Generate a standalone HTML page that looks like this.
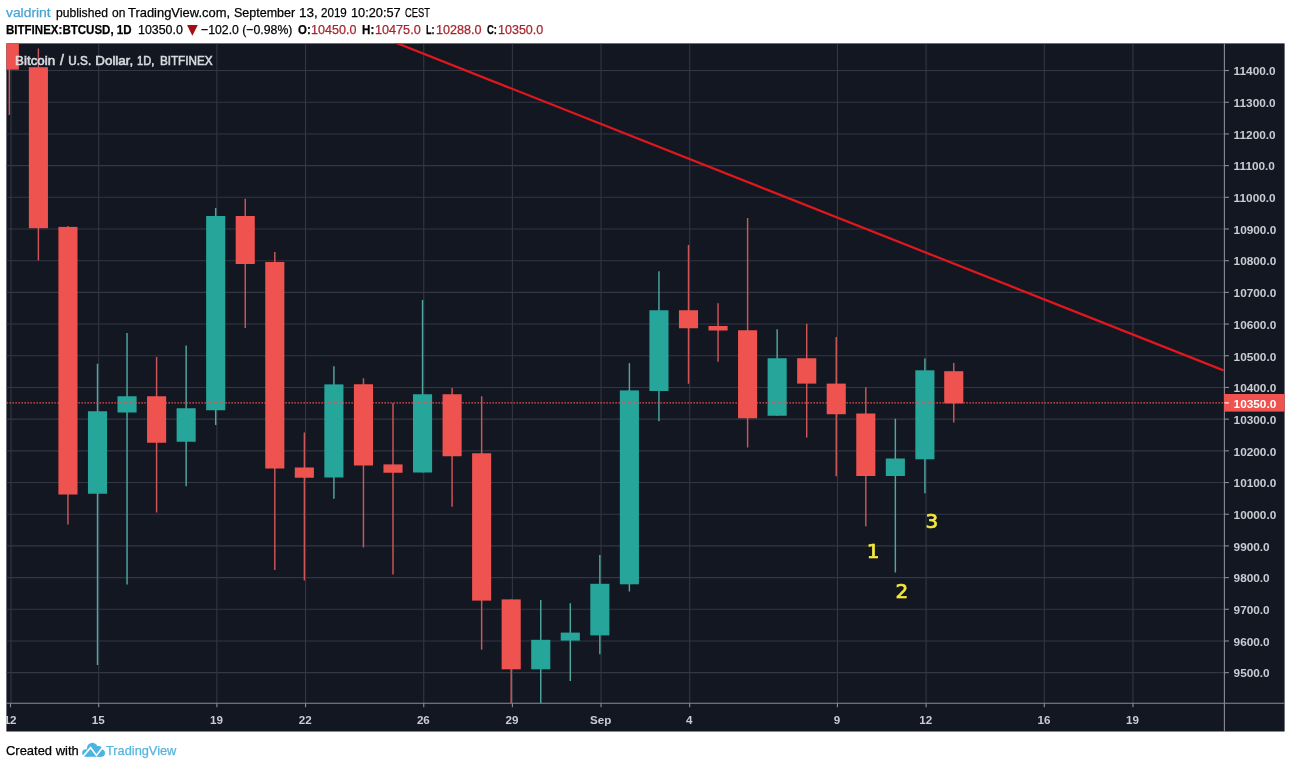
<!DOCTYPE html>
<html><head><meta charset="utf-8"><title>BTCUSD chart</title>
<style>
html,body{margin:0;padding:0;background:#fff}
body{width:1291px;height:768px;position:relative;overflow:hidden;font-family:"Liberation Sans",sans-serif;color:#000}
.w{position:absolute;white-space:nowrap;line-height:20px;transform-origin:0 0;display:block;-webkit-text-stroke:0.25px currentColor}
#mask{position:absolute;left:0;top:40px;width:6.4px;height:700px;background:#fff}
#tri{position:absolute;left:186.9px;top:19.2px;line-height:20px;font-family:"DejaVu Sans",sans-serif;font-size:14px;color:#a30d14}
#logo{position:absolute;left:82px;top:742px}
</style></head><body>
<svg width="1291" height="768" viewBox="0 0 1291 768" style="position:absolute;left:0;top:0"><defs><clipPath id="pane"><rect x="6.4" y="43.4" width="1218.0" height="659.9"/></clipPath></defs><rect x="6.4" y="43.4" width="1278.1999999999998" height="688.1" fill="#131722"/><g stroke="#333743" stroke-width="1.1" clip-path="url(#pane)"><line x1="6.4" y1="70.55" x2="1224.4" y2="70.55"/><line x1="6.4" y1="102.24" x2="1224.4" y2="102.24"/><line x1="6.4" y1="133.93" x2="1224.4" y2="133.93"/><line x1="6.4" y1="165.62" x2="1224.4" y2="165.62"/><line x1="6.4" y1="197.31" x2="1224.4" y2="197.31"/><line x1="6.4" y1="229.00" x2="1224.4" y2="229.00"/><line x1="6.4" y1="260.69" x2="1224.4" y2="260.69"/><line x1="6.4" y1="292.38" x2="1224.4" y2="292.38"/><line x1="6.4" y1="324.07" x2="1224.4" y2="324.07"/><line x1="6.4" y1="355.76" x2="1224.4" y2="355.76"/><line x1="6.4" y1="387.45" x2="1224.4" y2="387.45"/><line x1="6.4" y1="419.14" x2="1224.4" y2="419.14"/><line x1="6.4" y1="450.83" x2="1224.4" y2="450.83"/><line x1="6.4" y1="482.52" x2="1224.4" y2="482.52"/><line x1="6.4" y1="514.21" x2="1224.4" y2="514.21"/><line x1="6.4" y1="545.90" x2="1224.4" y2="545.90"/><line x1="6.4" y1="577.59" x2="1224.4" y2="577.59"/><line x1="6.4" y1="609.28" x2="1224.4" y2="609.28"/><line x1="6.4" y1="640.97" x2="1224.4" y2="640.97"/><line x1="6.4" y1="672.66" x2="1224.4" y2="672.66"/><line x1="11.00" y1="43.4" x2="11.00" y2="703.3"/><line x1="98.70" y1="43.4" x2="98.70" y2="703.3"/><line x1="216.90" y1="43.4" x2="216.90" y2="703.3"/><line x1="305.55" y1="43.4" x2="305.55" y2="703.3"/><line x1="423.75" y1="43.4" x2="423.75" y2="703.3"/><line x1="512.40" y1="43.4" x2="512.40" y2="703.3"/><line x1="601.05" y1="43.4" x2="601.05" y2="703.3"/><line x1="689.70" y1="43.4" x2="689.70" y2="703.3"/><line x1="837.45" y1="43.4" x2="837.45" y2="703.3"/><line x1="926.10" y1="43.4" x2="926.10" y2="703.3"/><line x1="1044.30" y1="43.4" x2="1044.30" y2="703.3"/><line x1="1132.95" y1="43.4" x2="1132.95" y2="703.3"/></g><g clip-path="url(#pane)"><line x1="9.30" y1="30" x2="9.30" y2="115" stroke="#cf5657" stroke-width="1.45"/> <rect x="-0.25" y="30" width="19.1" height="39.60" fill="#ef5350"/><line x1="38.40" y1="48.4" x2="38.40" y2="260.6" stroke="#cf5657" stroke-width="1.45"/> <rect x="28.85" y="67.2" width="19.1" height="161.00" fill="#ef5350"/><line x1="67.95" y1="226" x2="67.95" y2="524.5" stroke="#cf5657" stroke-width="1.45"/> <rect x="58.40" y="226.9" width="19.1" height="267.60" fill="#ef5350"/><line x1="97.50" y1="363.75" x2="97.50" y2="665" stroke="#4fa69f" stroke-width="1.45"/> <rect x="87.95" y="411.25" width="19.1" height="82.50" fill="#26a69a"/><line x1="127.05" y1="333" x2="127.05" y2="584.5" stroke="#4fa69f" stroke-width="1.45"/> <rect x="117.50" y="396.25" width="19.1" height="16.25" fill="#26a69a"/><line x1="156.60" y1="357" x2="156.60" y2="512.5" stroke="#cf5657" stroke-width="1.45"/> <rect x="147.05" y="396.25" width="19.1" height="46.50" fill="#ef5350"/><line x1="186.15" y1="345.5" x2="186.15" y2="486.25" stroke="#4fa69f" stroke-width="1.45"/> <rect x="176.60" y="408.25" width="19.1" height="33.50" fill="#26a69a"/><line x1="215.70" y1="208" x2="215.70" y2="425" stroke="#4fa69f" stroke-width="1.45"/> <rect x="206.15" y="216" width="19.1" height="194.25" fill="#26a69a"/><line x1="245.25" y1="198.75" x2="245.25" y2="328" stroke="#cf5657" stroke-width="1.45"/> <rect x="235.70" y="216" width="19.1" height="48.00" fill="#ef5350"/><line x1="274.80" y1="251.9" x2="274.80" y2="570" stroke="#cf5657" stroke-width="1.45"/> <rect x="265.25" y="262" width="19.1" height="206.50" fill="#ef5350"/><line x1="304.35" y1="432.5" x2="304.35" y2="580.5" stroke="#cf5657" stroke-width="1.45"/> <rect x="294.80" y="467.5" width="19.1" height="10.25" fill="#ef5350"/><line x1="333.90" y1="366.25" x2="333.90" y2="498.75" stroke="#4fa69f" stroke-width="1.45"/> <rect x="324.35" y="384.4" width="19.1" height="93.10" fill="#26a69a"/><line x1="363.45" y1="378.25" x2="363.45" y2="547.5" stroke="#cf5657" stroke-width="1.45"/> <rect x="353.90" y="384.25" width="19.1" height="81.25" fill="#ef5350"/><line x1="393.00" y1="403" x2="393.00" y2="574.5" stroke="#cf5657" stroke-width="1.45"/> <rect x="383.45" y="464.4" width="19.1" height="8.35" fill="#ef5350"/><line x1="422.55" y1="300" x2="422.55" y2="472.5" stroke="#4fa69f" stroke-width="1.45"/> <rect x="413.00" y="394.25" width="19.1" height="78.25" fill="#26a69a"/><line x1="452.10" y1="388" x2="452.10" y2="506.75" stroke="#cf5657" stroke-width="1.45"/> <rect x="442.55" y="394.25" width="19.1" height="62.00" fill="#ef5350"/><line x1="481.65" y1="396.25" x2="481.65" y2="649.7" stroke="#cf5657" stroke-width="1.45"/> <rect x="472.10" y="453.25" width="19.1" height="147.35" fill="#ef5350"/><line x1="511.20" y1="599.4" x2="511.20" y2="703" stroke="#cf5657" stroke-width="1.45"/> <rect x="501.65" y="599.4" width="19.1" height="69.90" fill="#ef5350"/><line x1="540.75" y1="600.1" x2="540.75" y2="703" stroke="#4fa69f" stroke-width="1.45"/> <rect x="531.20" y="639.8" width="19.1" height="29.50" fill="#26a69a"/><line x1="570.30" y1="603.2" x2="570.30" y2="681" stroke="#4fa69f" stroke-width="1.45"/> <rect x="560.75" y="632.6" width="19.1" height="8.00" fill="#26a69a"/><line x1="599.85" y1="555" x2="599.85" y2="654.2" stroke="#4fa69f" stroke-width="1.45"/> <rect x="590.30" y="583.8" width="19.1" height="51.60" fill="#26a69a"/><line x1="629.40" y1="363.1" x2="629.40" y2="591.6" stroke="#4fa69f" stroke-width="1.45"/> <rect x="619.85" y="390.4" width="19.1" height="193.90" fill="#26a69a"/><line x1="658.95" y1="271.25" x2="658.95" y2="421.25" stroke="#4fa69f" stroke-width="1.45"/> <rect x="649.40" y="310.25" width="19.1" height="80.75" fill="#26a69a"/><line x1="688.50" y1="245" x2="688.50" y2="383.75" stroke="#cf5657" stroke-width="1.45"/> <rect x="678.95" y="310.25" width="19.1" height="18.00" fill="#ef5350"/><line x1="718.05" y1="303.25" x2="718.05" y2="361.75" stroke="#cf5657" stroke-width="1.45"/> <rect x="708.50" y="326" width="19.1" height="4.50" fill="#ef5350"/><line x1="747.60" y1="218" x2="747.60" y2="447.5" stroke="#cf5657" stroke-width="1.45"/> <rect x="738.05" y="330.25" width="19.1" height="88.00" fill="#ef5350"/><line x1="777.15" y1="329.25" x2="777.15" y2="415.75" stroke="#4fa69f" stroke-width="1.45"/> <rect x="767.60" y="358.25" width="19.1" height="57.50" fill="#26a69a"/><line x1="806.70" y1="323.75" x2="806.70" y2="437.5" stroke="#cf5657" stroke-width="1.45"/> <rect x="797.15" y="358.25" width="19.1" height="25.35" fill="#ef5350"/><line x1="836.25" y1="337" x2="836.25" y2="476.25" stroke="#cf5657" stroke-width="1.45"/> <rect x="826.70" y="383.6" width="19.1" height="30.65" fill="#ef5350"/><line x1="865.80" y1="387.3" x2="865.80" y2="526.25" stroke="#cf5657" stroke-width="1.45"/> <rect x="856.25" y="413.5" width="19.1" height="62.50" fill="#ef5350"/><line x1="895.35" y1="418.7" x2="895.35" y2="572.6" stroke="#4fa69f" stroke-width="1.45"/> <rect x="885.80" y="458.5" width="19.1" height="17.50" fill="#26a69a"/><line x1="924.90" y1="358.4" x2="924.90" y2="493.3" stroke="#4fa69f" stroke-width="1.45"/> <rect x="915.35" y="370.3" width="19.1" height="89.00" fill="#26a69a"/><line x1="953.75" y1="363" x2="953.75" y2="422.5" stroke="#cf5657" stroke-width="1.45"/> <rect x="944.20" y="371.2" width="19.1" height="32.20" fill="#ef5350"/></g><line x1="6.4" y1="402.9" x2="1224.4" y2="402.9" stroke="#ef5350" stroke-width="1.1" stroke-dasharray="1.5 1.5"/><g clip-path="url(#pane)"><line x1="390" y1="40.43" x2="1223.5" y2="370.41" stroke="#de181d" stroke-width="2.25"/></g><line x1="1224.4" y1="43.4" x2="1224.4" y2="731.5" stroke="#8a8d97" stroke-width="1.1"/><line x1="6.4" y1="703.3" x2="1284.6" y2="703.3" stroke="#8a8d97" stroke-width="1.1"/><g stroke="#8a8d97" stroke-width="1.1"><line x1="1224.4" y1="70.55" x2="1228.9" y2="70.55"/><line x1="1224.4" y1="102.24" x2="1228.9" y2="102.24"/><line x1="1224.4" y1="133.93" x2="1228.9" y2="133.93"/><line x1="1224.4" y1="165.62" x2="1228.9" y2="165.62"/><line x1="1224.4" y1="197.31" x2="1228.9" y2="197.31"/><line x1="1224.4" y1="229.00" x2="1228.9" y2="229.00"/><line x1="1224.4" y1="260.69" x2="1228.9" y2="260.69"/><line x1="1224.4" y1="292.38" x2="1228.9" y2="292.38"/><line x1="1224.4" y1="324.07" x2="1228.9" y2="324.07"/><line x1="1224.4" y1="355.76" x2="1228.9" y2="355.76"/><line x1="1224.4" y1="387.45" x2="1228.9" y2="387.45"/><line x1="1224.4" y1="419.14" x2="1228.9" y2="419.14"/><line x1="1224.4" y1="450.83" x2="1228.9" y2="450.83"/><line x1="1224.4" y1="482.52" x2="1228.9" y2="482.52"/><line x1="1224.4" y1="514.21" x2="1228.9" y2="514.21"/><line x1="1224.4" y1="545.90" x2="1228.9" y2="545.90"/><line x1="1224.4" y1="577.59" x2="1228.9" y2="577.59"/><line x1="1224.4" y1="609.28" x2="1228.9" y2="609.28"/><line x1="1224.4" y1="640.97" x2="1228.9" y2="640.97"/><line x1="1224.4" y1="672.66" x2="1228.9" y2="672.66"/></g><g font-family="'Liberation Sans',sans-serif" font-weight="bold" font-size="11.8" fill="#c9ccd3"><text x="1233.6" y="75.30">11400.0</text><text x="1233.6" y="106.99">11300.0</text><text x="1233.6" y="138.68">11200.0</text><text x="1233.6" y="170.37">11100.0</text><text x="1233.6" y="202.06">11000.0</text><text x="1233.6" y="233.75">10900.0</text><text x="1233.6" y="265.44">10800.0</text><text x="1233.6" y="297.13">10700.0</text><text x="1233.6" y="328.82">10600.0</text><text x="1233.6" y="360.51">10500.0</text><text x="1233.6" y="392.20">10400.0</text><text x="1233.6" y="423.89">10300.0</text><text x="1233.6" y="455.58">10200.0</text><text x="1233.6" y="487.27">10100.0</text><text x="1233.6" y="518.96">10000.0</text><text x="1233.6" y="550.65">9900.0</text><text x="1233.6" y="582.34">9800.0</text><text x="1233.6" y="614.03">9700.0</text><text x="1233.6" y="645.72">9600.0</text><text x="1233.6" y="677.41">9500.0</text></g><rect x="1224.1000000000001" y="394" width="60.499999999999815" height="17.6" fill="#ef5350"/><line x1="1224.4" y1="402.9" x2="1228.9" y2="402.9" stroke="#fff" stroke-width="1.1"/><text x="1233.6" y="407.55" font-family="'Liberation Sans',sans-serif" font-weight="bold" font-size="11.8" fill="#fff">10350.0</text><g stroke="#8a8d97" stroke-width="1.1"><line x1="10.50" y1="703.3" x2="10.50" y2="707.3"/><line x1="98.70" y1="703.3" x2="98.70" y2="707.3"/><line x1="216.90" y1="703.3" x2="216.90" y2="707.3"/><line x1="305.55" y1="703.3" x2="305.55" y2="707.3"/><line x1="423.75" y1="703.3" x2="423.75" y2="707.3"/><line x1="512.40" y1="703.3" x2="512.40" y2="707.3"/><line x1="601.05" y1="703.3" x2="601.05" y2="707.3"/><line x1="689.70" y1="703.3" x2="689.70" y2="707.3"/><line x1="837.45" y1="703.3" x2="837.45" y2="707.3"/><line x1="926.10" y1="703.3" x2="926.10" y2="707.3"/><line x1="1044.30" y1="703.3" x2="1044.30" y2="707.3"/><line x1="1132.95" y1="703.3" x2="1132.95" y2="707.3"/></g><g font-family="'Liberation Sans',sans-serif" font-weight="bold" font-size="11.6" fill="#c9ccd3"><text x="10.10" y="724" text-anchor="middle">12</text><text x="98.30" y="724" text-anchor="middle">15</text><text x="216.50" y="724" text-anchor="middle">19</text><text x="305.15" y="724" text-anchor="middle">22</text><text x="423.35" y="724" text-anchor="middle">26</text><text x="512.00" y="724" text-anchor="middle">29</text><text x="600.65" y="724" text-anchor="middle">Sep</text><text x="689.30" y="724" text-anchor="middle">4</text><text x="837.05" y="724" text-anchor="middle">9</text><text x="925.70" y="724" text-anchor="middle">12</text><text x="1043.90" y="724" text-anchor="middle">16</text><text x="1132.55" y="724" text-anchor="middle">19</text></g><g font-family="'Liberation Sans',sans-serif" font-size="12.9" fill="#d8dade" stroke="#d8dade" stroke-width="0.6"><text x="15.1" y="65.2" textLength="40.0" lengthAdjust="spacingAndGlyphs">Bitcoin</text><text x="62.0" y="65.2" text-anchor="middle" font-size="14">/</text><text x="68.3" y="65.2" textLength="22.9" lengthAdjust="spacingAndGlyphs">U.S.</text><text x="95.3" y="65.2" textLength="37.9" lengthAdjust="spacingAndGlyphs">Dollar,</text><text x="137.1" y="65.2" textLength="17.3" lengthAdjust="spacingAndGlyphs">1D,</text><text x="159.9" y="65.2" textLength="52.7" lengthAdjust="spacingAndGlyphs">BITFINEX</text></g><text x="873.0" y="557.7" text-anchor="middle" font-family="'DejaVu Sans',sans-serif" font-size="20" fill="#f4e93e" stroke="#f4e93e" stroke-width="0.7">1</text><text x="901.9" y="597.7" text-anchor="middle" font-family="'DejaVu Sans',sans-serif" font-size="20" fill="#f4e93e" stroke="#f4e93e" stroke-width="0.7">2</text><text x="931.8" y="528.1" text-anchor="middle" font-family="'DejaVu Sans',sans-serif" font-size="20" fill="#f4e93e" stroke="#f4e93e" stroke-width="0.7">3</text></svg>
<div id="mask"></div>
<span class="w" style="left:6.20px;top:3.10px;font-size:13px;color:#4aa3d4;transform:scaleX(1.0643)">valdrint</span>
<span class="w" style="left:55.50px;top:3.10px;font-size:13px;color:#000;transform:scaleX(0.9327)">published</span>
<span class="w" style="left:111.90px;top:3.10px;font-size:13px;color:#000;transform:scaleX(0.9214)">on</span>
<span class="w" style="left:127.70px;top:3.10px;font-size:13px;color:#000;transform:scaleX(0.9941)">TradingView.com,</span>
<span class="w" style="left:233.54px;top:3.10px;font-size:13px;color:#000;transform:scaleX(0.9619)">September</span>
<span class="w" style="left:298.96px;top:3.10px;font-size:13px;color:#000;transform:scaleX(1.0437)">13,</span>
<span class="w" style="left:320.90px;top:3.10px;font-size:13px;color:#000;transform:scaleX(0.8931)">2019</span>
<span class="w" style="left:351.32px;top:3.10px;font-size:13px;color:#000;transform:scaleX(0.9816)">10:20:57</span>
<span class="w" style="left:404.50px;top:3.10px;font-size:13px;color:#000;transform:scaleX(0.7200)">CEST</span>
<span class="w" style="left:6.30px;top:20.10px;font-size:13px;font-weight:bold;color:#000;transform:scaleX(0.8872)">BITFINEX:BTCUSD, 1D</span>
<span class="w" style="left:137.95px;top:20.10px;font-size:13px;color:#000;transform:scaleX(0.9543)">10350.0</span>
<span class="w" style="left:201.40px;top:20.10px;font-size:13px;color:#000;transform:scaleX(0.9437)">−102.0 (−0.98%)</span>
<span class="w" style="left:297.50px;top:20.10px;font-size:13px;font-weight:bold;color:#000;transform:scaleX(0.8786)">O:</span>
<span class="w" style="left:311.23px;top:20.10px;font-size:13px;color:#a8242d;transform:scaleX(0.9652)">10450.0</span>
<span class="w" style="left:361.70px;top:20.10px;font-size:13px;font-weight:bold;color:#000;transform:scaleX(0.8923)">H:</span>
<span class="w" style="left:374.73px;top:20.10px;font-size:13px;color:#a8242d;transform:scaleX(0.9717)">10475.0</span>
<span class="w" style="left:425.70px;top:20.10px;font-size:13px;font-weight:bold;color:#000;transform:scaleX(0.7000)">L:</span>
<span class="w" style="left:436.03px;top:20.10px;font-size:13px;color:#a8242d;transform:scaleX(0.9696)">10288.0</span>
<span class="w" style="left:486.50px;top:20.10px;font-size:13px;font-weight:bold;color:#000;transform:scaleX(0.7308)">C:</span>
<span class="w" style="left:498.34px;top:20.10px;font-size:13px;color:#a8242d;transform:scaleX(0.9630)">10350.0</span>
<span class="w" style="left:6.30px;top:740.70px;font-size:13px;color:#000;transform:scaleX(0.9959)">Created with</span>
<span class="w" style="left:106.00px;top:740.70px;font-size:13px;color:#57b4de;transform:scaleX(0.9833)">TradingView</span>
<span id="tri">&#9660;</span>
<svg id="logo" width="24" height="16" viewBox="0 0 24 16"><g fill="#4bb4e3"><circle cx="3.9" cy="11" r="3.7"/><circle cx="10.4" cy="6.3" r="5.5"/><circle cx="16.6" cy="8.2" r="4.2"/><circle cx="19.3" cy="11.1" r="3.7"/><rect x="3.9" y="9" width="15.4" height="5.8"/></g><path d="M0.6 14.9 8.6 5.6 14.4 13.4 21.6 4.2" fill="none" stroke="#fff" stroke-width="1.7" stroke-linejoin="miter"/></svg>
</body></html>
